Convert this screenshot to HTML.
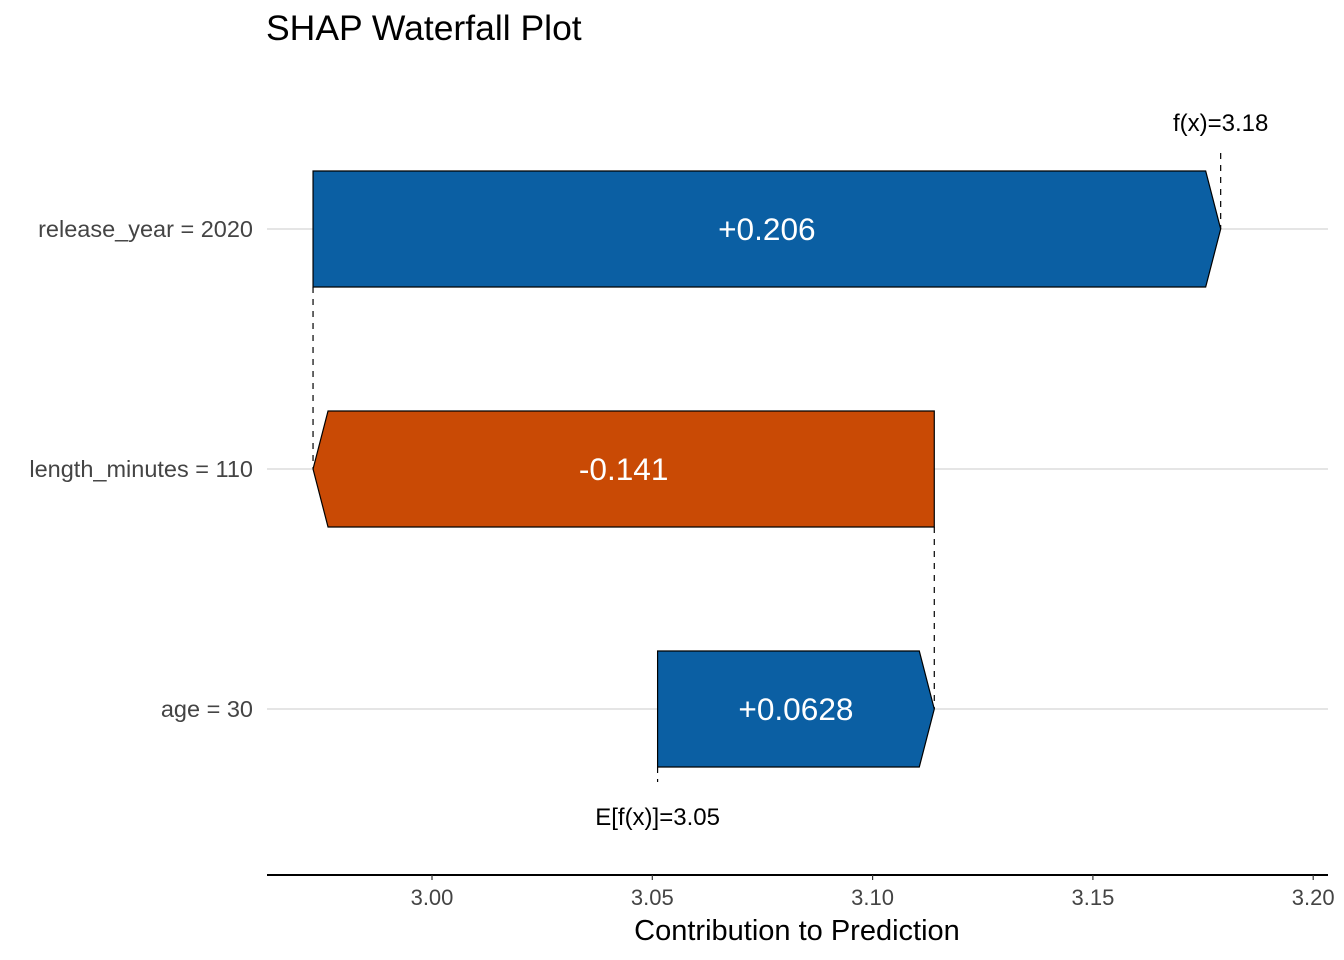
<!DOCTYPE html>
<html><head><meta charset="utf-8"><style>
body{margin:0;background:#fff;}
svg{display:block;font-family:"Liberation Sans",Arial,sans-serif;}
</style></head><body>
<svg id="chart" width="1344" height="960">
<text x="266" y="40" font-size="35.5" fill="#000">SHAP Waterfall Plot</text>
<g id="grid"></g><g id="conn"></g><g id="bars"></g><g id="axis"></g>
<text x="797" y="940" font-size="29" text-anchor="middle" fill="#000">Contribution to Prediction</text>
</svg>
<script>
const features = ["release_year = 2020","length_minutes = 110","age = 30"];
const shapValues = [0.206,-0.141,0.0628];
const labels = ["+0.206","-0.141","+0.0628"];
const baseValue = 3.0512;
const tickValues = [3.00,3.05,3.10,3.15,3.20];
const tickLabels = ["3.00","3.05","3.10","3.15","3.20"];

const NS="http://www.w3.org/2000/svg";
const x=v=>432+(v-3)*4406;
const rowY=[229,469,709];
const half=58, tip=15;
function mk(tag,attrs,parent,text){const e=document.createElementNS(NS,tag);for(const k in attrs)e.setAttribute(k,attrs[k]);if(text!==undefined)e.textContent=text;document.getElementById(parent).appendChild(e);return e;}

const n=features.length;
const starts=new Array(n), ends=new Array(n);
let cur=baseValue;
for(let i=n-1;i>=0;i--){starts[i]=cur;ends[i]=cur+shapValues[i];cur=ends[i];}
const fx=cur;

for(let i=0;i<n;i++){
  const g=mk('line',{x1:267,x2:1328,y1:rowY[i],y2:rowY[i],stroke:'#e5e5e5','stroke-width':2},'grid');
  
  
  const yl=mk('text',{x:253,y:rowY[i]+8,'font-size':23.5,'text-anchor':'end',fill:'#444'},'grid',features[i]);
  
  
}
for(let i=0;i<n;i++){
  const a=x(starts[i]), b=x(ends[i]), y=rowY[i];
  const dir=Math.sign(b-a);
  const pts=[[a,y-half],[b-dir*tip,y-half],[b,y],[b-dir*tip,y+half],[a,y+half]].map(p=>p.join(',')).join(' ');
  const p=mk('polygon',{points:pts,fill:shapValues[i]>=0?'#0b5fa3':'#c94a05',stroke:'#000','stroke-width':1.2},'bars');
  
  
  const t=mk('text',{x:(a+b)/2,y:y+11,'font-size':31.6,'text-anchor':'middle',fill:'#fff'},'bars',labels[i]);
  
  
  if(i<n-1){
    const c=mk('line',{x1:a,x2:a,y1:y+half,y2:rowY[i+1],stroke:'#000','stroke-dasharray':'6,6','stroke-width':1.2},'conn');
    
    
  }
}
const bx=x(baseValue);
const l1=mk('line',{x1:bx,x2:bx,y1:rowY[n-1]+half,y2:782,stroke:'#000','stroke-dasharray':'6,6','stroke-width':1.2},'conn');


const t1=mk('text',{x:bx,y:825,'font-size':24,'text-anchor':'middle',fill:'#000'},'conn','E[f(x)]='+baseValue.toFixed(2));


const fxx=x(fx);
const l2=mk('line',{x1:fxx,x2:fxx,y1:153,y2:rowY[0],stroke:'#000','stroke-dasharray':'6,6','stroke-width':1.2},'conn');


const t2=mk('text',{x:fxx,y:131,'font-size':24,'text-anchor':'middle',fill:'#000'},'conn','f(x)='+fx.toFixed(2));



const ax=mk('line',{x1:267,x2:1328,y1:875,y2:875,stroke:'#000','stroke-width':2},'axis');


tickValues.forEach((v,i)=>{
  const tk=mk('line',{x1:x(v),x2:x(v),y1:875,y2:880,stroke:'#333','stroke-width':1.2},'axis');
  
  
  const tl=mk('text',{x:x(v),y:905,'font-size':22,'text-anchor':'middle',fill:'#444'},'axis',tickLabels[i]);
  
  
});
</script>
</body></html>
